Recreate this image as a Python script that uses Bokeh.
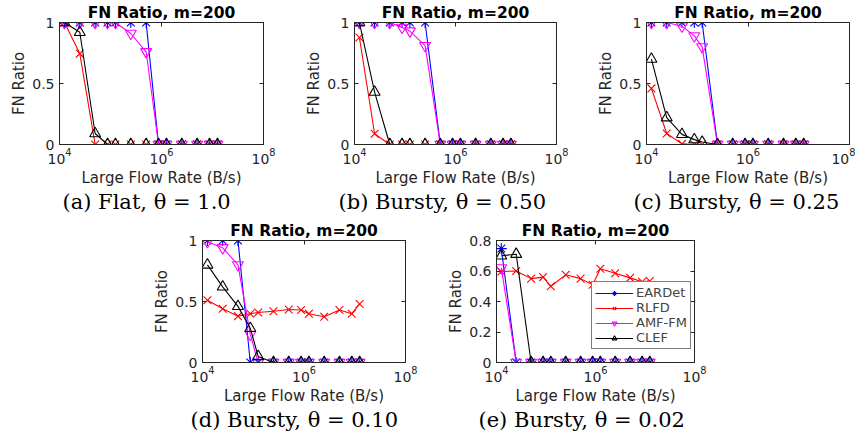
from bokeh.plotting import figure
from bokeh.layouts import column, row
from bokeh.models import (Range1d, FixedTicker, LinearAxis, Title, Legend,
                          LegendItem, CustomJSTickFormatter)
from bokeh.embed import file_html
from bokeh.resources import INLINE

# ---------------- data ----------------
rates = [12500, 25000, 50000, 87500, 125000, 250000, 500000, 875000,
         1250000, 2500000, 5000000, 8750000, 12500000]
x_ticks = [1e4, 1e6, 1e8]
series_names = ["EARDet", "RLFD", "AMF-FM", "CLEF"]

a_eardet = [1, 1, 1, 1, 1, 1, 1, 0, 0, 0, 0, 0, 0]
a_rlfd = [1, 0.745, 0, 0, 0, 0, 0, 0, 0, 0, 0, 0, 0]
a_amf = [1, 1, 1, 1, 1, 0.91, 0.76, 0, 0, 0, 0, 0, 0]
a_clef = [1, 0.92, 0.09, 0, 0, 0, 0, 0, 0, 0, 0, 0, 0]

b_eardet = [1, 1, 1, 1, 1, 1, 0, 0, 0, 0, 0, 0, 0]
b_rlfd = [0.877, 0.088, 0, 0, 0, 0, 0, 0, 0, 0, 0, 0, 0]
b_amf = [1, 1, 1, 0.96, 0.93, 0.81, 0, 0, 0, 0, 0, 0, 0]
b_clef = [1, 0.43, 0, 0, 0, 0, 0, 0, 0, 0, 0, 0, 0]

c_eardet = [1, 1, 1, 1, 1, 0, 0, 0, 0, 0, 0, 0, 0]
c_rlfd = [0.46, 0.09, 0.005, 0, 0, 0, 0, 0, 0, 0, 0, 0, 0]
c_amf = [1, 1, 0.97, 0.89, 0.80, 0, 0, 0, 0, 0, 0, 0, 0]
c_clef = [0.70, 0.22, 0.083, 0.04, 0.02, 0, 0, 0, 0, 0, 0, 0, 0]

d_eardet = [1, 1, 1, 0, 0, 0, 0, 0, 0, 0, 0, 0, 0]
d_rlfd = [0.51, 0.44, 0.38, 0.40, 0.41, 0.42, 0.435, 0.43, 0.40, 0.375, 0.43, 0.40, 0.48]
d_amf = [0.99, 0.94, 0.80, 0.23, 0, 0, 0, 0, 0, 0, 0, 0, 0]
d_clef = [0.80, 0.62, 0.46, 0.28, 0.05, 0, 0, 0, 0, 0, 0, 0, 0]

e_eardet = [0.747, 0, 0, 0, 0, 0, 0, 0, 0, 0, 0, 0, 0]
e_rlfd = [0.597, 0.60, 0.55, 0.56, 0.50, 0.575, 0.55, 0.51, 0.615, 0.585, 0.555, 0.53, 0.535]
e_amf = [0.62, 0, 0, 0, 0, 0, 0, 0, 0, 0, 0, 0, 0]
e_clef = [0.70, 0.71, 0, 0, 0, 0, 0, 0, 0, 0, 0, 0, 0]

y_ticks_1 = [0, 0.5, 1]
y_ticks_e = [0, 0.2, 0.4, 0.6, 0.8]

captions = ["(a) Flat, θ = 1.0", "(b) Bursty, θ = 0.50", "(c) Bursty, θ = 0.25",
            "(d) Bursty, θ = 0.10", "(e) Bursty, θ = 0.02"]

# ---------------- style ----------------
SANS = "DejaVu Sans"
SERIF = "DejaVu Serif"
AX = "#262626"
COLORS = ["#0000ff", "#ff0000", "#ff00ff", "#000000"]
MARKERS = ["asterisk", "x", "inverted_triangle", "triangle"]


def panel(series, caption, cap_offset, y_max, y_ticks, frame_w, frame_h, mb, legend_loc=None):
    left, right, top, bottom = mb
    p = figure(x_axis_type="log", x_range=Range1d(1e4, 1e8), y_range=Range1d(0, y_max),
               frame_width=frame_w, frame_height=frame_h,
               min_border_left=left, min_border_right=right,
               min_border_top=top, min_border_bottom=bottom,
               output_backend="svg", toolbar_location=None, title="FN Ratio, m=200")
    p.title.align = "center"
    p.title.text_font = SANS
    p.title.text_font_size = "15.5px"
    p.title.text_font_style = "bold"
    p.title.text_color = "#000000"
    p.title.standoff = 2
    p.grid.visible = False
    p.outline_line_color = AX
    p.background_fill_color = "white"
    p.border_fill_color = "white"

    xa = p.xaxis[0]
    xa.ticker = FixedTicker(ticks=x_ticks)
    xa.axis_label = "Large Flow Rate (B/s)"
    ya = p.yaxis[0]
    ya.ticker = FixedTicker(ticks=y_ticks)
    ya.formatter = CustomJSTickFormatter(code="return String(tick);")
    ya.axis_label = "FN Ratio"
    for ax in (xa, ya):
        ax.major_tick_in = 4
        ax.major_tick_out = 0
        ax.minor_tick_line_color = None
        ax.axis_line_color = AX
        ax.major_tick_line_color = AX
        ax.major_label_text_font = SANS
        ax.major_label_text_font_size = "14px"
        ax.major_label_text_color = AX
        ax.axis_label_text_font = SANS
        ax.axis_label_text_font_size = "15px"
        ax.axis_label_text_font_style = "normal"
        ax.axis_label_text_color = AX
    xa.major_label_standoff = 3
    xa.axis_label_standoff = 2
    ya.major_label_standoff = 5
    ya.axis_label_standoff = 1

    top_ax = LinearAxis(ticker=FixedTicker(ticks=x_ticks),
                        formatter=CustomJSTickFormatter(code="return '';"),
                        major_label_text_font_size="2px",
                        major_tick_in=4, major_tick_out=0, minor_tick_line_color=None,
                        axis_line_color=AX, major_tick_line_color=AX, major_label_standoff=0)
    right_ax = LinearAxis(ticker=FixedTicker(ticks=y_ticks),
                          formatter=CustomJSTickFormatter(code="return '';"),
                          major_label_text_font_size="2px",
                          major_tick_in=4, major_tick_out=0, minor_tick_line_color=None,
                          axis_line_color=AX, major_tick_line_color=AX, major_label_standoff=0)
    p.add_layout(top_ax, "above")
    p.add_layout(right_ax, "right")

    items = []
    for name, ys, col, mk in zip(series_names, series, COLORS, MARKERS):
        ln = p.line(rates, ys, line_color=col, line_width=1.1)
        sc = p.scatter(rates, ys, marker=mk, size=11, line_color=col, fill_color=None,
                       line_width=1.1)
        items.append(LegendItem(label=name, renderers=[ln, sc]))

    if legend_loc is not None:
        lg = Legend(items=items, location=legend_loc, label_text_font=SANS,
                    label_text_font_size="13px", label_height=12, glyph_height=12,
                    glyph_width=38, label_standoff=3, spacing=-4, padding=3, margin=0,
                    label_text_line_height=1.0,
                    border_line_color="#000000", border_line_width=1,
                    background_fill_color="white", background_fill_alpha=1.0)
        p.add_layout(lg)

    cap = Title(text=caption, align="left", offset=cap_offset, text_font=SERIF,
                text_font_size="21px", text_font_style="normal", text_color="#000000",
                standoff=-4)
    p.add_layout(cap, "below")
    return p


pa = panel([a_eardet, a_rlfd, a_amf, a_clef], captions[0], 3, 1, y_ticks_1, 204, 122,
           (59, 37, 22, 74))
pb = panel([b_eardet, b_rlfd, b_amf, b_clef], captions[1], -16, 1, y_ticks_1, 202, 122,
           (54, 36, 22, 74))
pc = panel([c_eardet, c_rlfd, c_amf, c_clef], captions[2], -13, 1, y_ticks_1, 203, 122,
           (54, 6, 22, 74))
pd = panel([d_eardet, d_rlfd, d_amf, d_clef], captions[3], -12, 1, y_ticks_1, 203, 122,
           (202, 37, 22, 72))
pe = panel([e_eardet, e_rlfd, e_amf, e_clef], captions[4], -18, 0.8, y_ticks_e, 198, 122,
           (54, 20, 22, 72), legend_loc=(95, 13))

layout = column(row(pa, pb, pc), row(pd, pe))

open("out.html", "w").write(file_html(layout, INLINE))
